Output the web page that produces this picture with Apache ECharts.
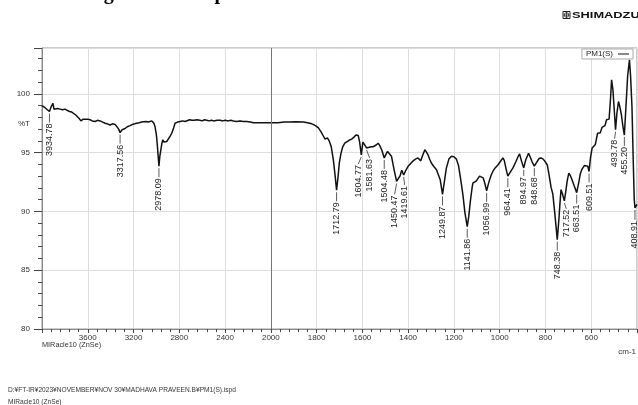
<!DOCTYPE html>
<html>
<head>
<meta charset="utf-8">
<script src="https://cdn.jsdelivr.net/npm/echarts@6/dist/echarts.min.js"></script>
<style>
html,body{margin:0;padding:0;background:#fff;}
#chart{width:638px;height:405px;}
</style>
</head>
<body>
<div id="chart"></div>
<script>
// ---- data ----
const wavenumbers = [4000,3985,3971,3955,3934.78,3920,3905,3895,3880,3865,3842,3820,3800,3784,3760,3740,3726,3705,3690,3675,3660,3652,3640,3623,3600,3580,3560,3545,3536,3515,3492,3470,3448,3430,3405,3385,3361,3345,3330,3317.56,3300,3290,3274,3255,3230,3210,3190,3172,3150,3130,3114,3090,3070,3055,3040,3032,3022,3012,3000,2991,2984,2978.09,2970,2962,2952,2944,2934,2924,2910,2895,2880,2866,2850,2837,2815,2793,2770,2750,2734,2710,2690,2670,2647,2620,2600,2580,2560,2540,2520,2500,2470,2443,2420,2400,2370,2350,2327,2300,2270,2240,2210,2180,2150,2120,2094,2060,2030,2000,1970,1940,1916,1890,1858,1840,1821,1805,1792,1780,1773,1763,1753,1745,1736,1727,1719,1712.79,1706,1701,1694,1686,1677,1669,1658,1647,1638,1628,1622,1618,1612,1604.77,1598,1592,1581.63,1574,1562,1553,1540,1531,1524,1515,1504.48,1496,1490,1482,1473,1462,1450.47,1443,1436,1428,1425,1419.61,1410,1400,1388,1378,1368,1357,1350,1345,1336,1327,1320,1313,1305,1298,1287,1276,1268,1260,1249.87,1242,1233,1222,1211,1200,1189,1180,1175,1168,1160,1152,1141.86,1135,1128,1120,1117,1110,1102,1095,1088,1080,1072,1065,1056.99,1050,1044,1037,1030,1020,1008,997,986,980,972,964.41,955,942,930,920,913,905,894.97,886,874,866,858,848.68,838,828,819,810,800,792,785,775,768,760,748.38,741,737,732,726,717.52,712,705,698,690,684,675,663.51,655,647,640,630,622,615,609.51,603,596,589,582,577,572,566,560,553,546,540,533,527,522,516,511,505,499,493.78,488,481,475,468,462,455.2,448,441,433,428,422,416,412,408.91,400];
const transmittance = [99.0,98.9,98.8,98.9,98.5,98.9,99.2,98.7,98.6,98.75,98.7,98.65,98.7,98.6,98.5,98.45,98.35,98.2,98.1,97.9,97.7,97.65,97.85,97.9,97.85,97.8,97.7,97.75,97.65,97.75,97.7,97.6,97.5,97.45,97.35,97.45,97.4,97.3,97.0,96.7,96.95,97.1,97.05,97.2,97.3,97.4,97.45,97.5,97.55,97.6,97.6,97.65,97.6,97.65,97.7,97.85,97.5,97.2,96.5,95.5,94.6,93.85,94.7,95.2,95.8,96.1,95.9,95.75,95.95,96.1,96.4,96.65,97.1,97.5,97.6,97.65,97.7,97.65,97.7,97.8,97.75,97.75,97.8,97.75,97.7,97.8,97.75,97.7,97.75,97.7,97.75,97.75,97.7,97.75,97.7,97.75,97.7,97.65,97.7,97.65,97.65,97.6,97.55,97.55,97.55,97.55,97.55,97.55,97.55,97.6,97.6,97.62,97.6,97.55,97.45,97.3,97.1,96.75,96.5,96.15,96.25,96.0,95.5,94.4,93.0,91.8,93.0,94.1,94.9,95.5,95.8,95.95,96.05,96.15,96.3,96.5,96.35,96.45,95.9,94.8,95.9,95.75,95.4,95.45,95.5,95.5,95.65,95.8,95.6,95.2,94.55,94.9,95.1,94.95,94.7,93.6,92.55,92.8,93.0,93.5,93.55,93.1,93.5,93.85,94.1,94.3,94.45,94.55,94.4,94.3,94.8,95.25,95.05,94.8,94.4,94.1,93.8,93.55,93.4,92.7,91.45,92.5,93.7,94.45,94.7,94.65,94.45,93.9,93.3,92.4,91.3,89.9,88.7,89.6,90.9,92.1,92.4,92.45,92.6,92.7,93.0,93.15,92.85,92.4,91.75,92.3,92.7,93.1,93.4,93.7,93.95,94.25,94.55,94.35,93.6,93.0,93.3,93.7,94.2,94.65,94.9,94.3,93.7,94.4,94.95,94.6,94.2,93.85,94.2,94.5,94.55,94.45,94.2,93.95,93.2,92.0,91.5,90.0,87.6,89.4,90.6,91.85,91.5,90.9,91.6,92.6,93.25,93.0,92.7,92.2,91.6,92.4,93.25,93.6,93.9,93.95,93.85,93.4,94.6,95.4,95.55,95.7,96.2,96.65,96.8,96.7,97.15,97.3,97.3,97.8,97.9,97.85,99.5,101.2,100.3,98.5,96.95,98.3,99.35,98.9,98.2,97.3,96.5,99.0,101.5,102.9,101.5,98.9,94.0,91.0,90.3,90.6];

const peakLabels = ['3934.78','3317.56','2978.09','1712.79','1604.77','1581.63','1504.48','1450.47','1419.61','1249.87','1141.86','1056.99','964.41','894.97','848.68','748.38','717.52','663.51','609.51','493.78','455.20','408.91'];
const peakWavenumbers = [3934.78,3317.56,2978.09,1712.79,1604.77,1581.63,1504.48,1450.47,1419.61,1249.87,1141.86,1056.99,964.41,894.97,848.68,748.38,717.52,663.51,609.51,493.78,455.2,408.91];
const peakTransmittance = [98.5,96.7,93.85,91.8,94.8,95.4,94.55,92.55,93.1,91.45,88.7,91.75,93.0,93.7,93.85,87.6,90.9,91.6,93.4,96.95,96.5,90.3];

const xTickLabels = ['3600','3200','2800','2400','2000','1800','1600','1400','1200','1000','800','600'];
const yTickLabels = ['80','85','90','95','100'];
const seriesName = 'PM1(S)';

// ---- layout / style (not data) ----
const FONT = '"Liberation Sans", Arial, sans-serif';
// per-label leader tweaks: [dx, gap]
const labelTweaks = {
  '1604.77': [-3, 9], '1581.63': [3, 10], '1450.47': [-2, 13], '1419.61': [1, 10],
  '717.52': [2, 8], '408.91': [0, 12], '493.78': [-1, 9], '894.97': [0, 8], '848.68': [0, 10]
};

// 2000 cm-1 break: left part compressed by half
const toT = w => (w > 2000 ? 2000 + (w - 2000) / 2 : w);
const toWn = t => (t > 2000 ? 2000 + (t - 2000) * 2 : t);

const lineData = wavenumbers.map((w, i) => [toT(w), transmittance[i]]);
const peakData = peakWavenumbers.map((w, i) => [toT(w), peakTransmittance[i], i]);

const chart = echarts.init(document.getElementById('chart'), null, {renderer: 'canvas'});

chart.setOption({
  animation: false,
  backgroundColor: '#fff',
  grid: {left: 42, top: 48, right: 1, bottom: 76, show: true, borderColor: '#999', borderWidth: 1, backgroundColor: 'transparent'},
  legend: {
    data: [{name: seriesName, icon: 'rect'}],
    right: 5, top: 49, align: 'right', orient: 'horizontal',
    itemWidth: 11, itemHeight: 1, itemGap: 0,
    padding: [0, 4, 0, 4],
    borderColor: '#aaa', borderWidth: 1, backgroundColor: '#fff',
    textStyle: {fontSize: 8, color: '#222', fontFamily: FONT, lineHeight: 10, padding: [0, 0, 0, 0]}
  },
  xAxis: {
    type: 'value', min: 400, max: 3000, interval: 200, inverse: true,
    axisLine: {show: true, lineStyle: {color: '#888', width: 1}},
    axisTick: {show: true, length: 4, lineStyle: {color: '#444'}},
    minorTick: {show: true, splitNumber: 5, length: 3, lineStyle: {color: '#444'}},
    splitLine: {show: true, lineStyle: {color: '#ddd', width: 1}},
    axisLabel: {
      margin: 5, fontSize: 8, color: '#333', fontFamily: FONT,
      showMinLabel: false, showMaxLabel: false,
      formatter: v => { const s = String(Math.round(toWn(v))); return xTickLabels.includes(s) ? s : ''; }
    }
  },
  yAxis: {
    type: 'value', min: 80, max: 103.9, interval: 5,
    axisLine: {show: true, lineStyle: {color: '#888', width: 1}},
    axisTick: {show: true, length: 8, lineStyle: {color: '#444'}},
    minorTick: {show: true, splitNumber: 5, length: 4, lineStyle: {color: '#444'}},
    splitLine: {show: true, lineStyle: {color: '#ddd', width: 1}},
    axisLabel: {
      margin: 12, fontSize: 8, color: '#333', fontFamily: FONT, showMaxLabel: false,
      formatter: v => (yTickLabels.includes(String(v)) ? String(v) : '')
    }
  },
  series: [
    {
      name: seriesName, type: 'line', data: lineData, showSymbol: false, symbol: 'none',
      lineStyle: {color: '#111', width: 1.5}, itemStyle: {color: '#111'}, z: 3,
      markLine: {
        silent: true, symbol: 'none', label: {show: false},
        lineStyle: {color: '#777', width: 1, type: 'solid'},
        data: [{xAxis: 2000}]
      }
    },
    {
      type: 'custom', data: peakData, clip: false, z: 4, silent: true,
      encode: {x: 0, y: 1},
      renderItem: (params, api) => {
        const p = api.coord([api.value(0), api.value(1)]);
        const lbl = peakLabels[api.value(2)];
        const tw = labelTweaks[lbl] || [0, 11];
        const tx = p[0] + tw[0];
        const ty = p[1] + tw[1];
        return {
          type: 'group',
          children: [
            {type: 'line', shape: {x1: p[0], y1: p[1] + 2, x2: tx, y2: ty}, style: {stroke: '#333', lineWidth: 0.8}},
            {type: 'text', x: tx, y: ty + 1, rotation: Math.PI / 2,
             style: {text: lbl, align: 'right', verticalAlign: 'middle', font: '9px ' + FONT, fill: '#222'}}
          ]
        };
      }
    }
  ],
  graphic: [
    {type: 'text', x: 86, y: -6, style: {text: 'Figure: FTIR spectrum', font: 'bold 20px "Liberation Serif", serif', fill: '#000', verticalAlign: 'middle'}},
    {type: 'rect', shape: {x: 563, y: 11.5, width: 7, height: 7}, style: {fill: '#fff', stroke: '#222', lineWidth: 1}},
    {type: 'circle', shape: {cx: 566.5, cy: 15, r: 2.3}, style: {fill: 'none', stroke: '#222', lineWidth: 0.8}},
    {type: 'line', shape: {x1: 563.5, y1: 15, x2: 569.5, y2: 15}, style: {stroke: '#222', lineWidth: 0.8}},
    {type: 'line', shape: {x1: 566.5, y1: 12, x2: 566.5, y2: 18}, style: {stroke: '#222', lineWidth: 0.8}},
    {type: 'text', x: 572, y: 15, scaleX: 1.35, style: {text: 'SHIMADZU', font: 'bold 9.5px ' + FONT, fill: '#111', verticalAlign: 'middle'}},
    {type: 'text', x: 24, y: 124, style: {text: '%T', font: '8px ' + FONT, fill: '#333', align: 'center', verticalAlign: 'middle'}},
    {type: 'text', x: 42, y: 345, style: {text: 'MIRacle10 (ZnSe)', font: '7.3px ' + FONT, fill: '#333', verticalAlign: 'middle'}},
    {type: 'text', x: 636, y: 351.5, style: {text: 'cm-1', font: '8px ' + FONT, fill: '#333', align: 'right', verticalAlign: 'middle'}},
    {type: 'text', x: 8, y: 390, style: {text: 'D:¥FT-IR¥2023¥NOVEMBER¥NOV 30¥MADHAVA PRAVEEN.B¥PM1(S).ispd', font: '6.6px ' + FONT, fill: '#333', verticalAlign: 'middle'}},
    {type: 'text', x: 8, y: 402, style: {text: 'MIRacle10 (ZnSe)', font: '6.6px ' + FONT, fill: '#333', verticalAlign: 'middle'}}
  ]
});
</script>
</body>
</html>
